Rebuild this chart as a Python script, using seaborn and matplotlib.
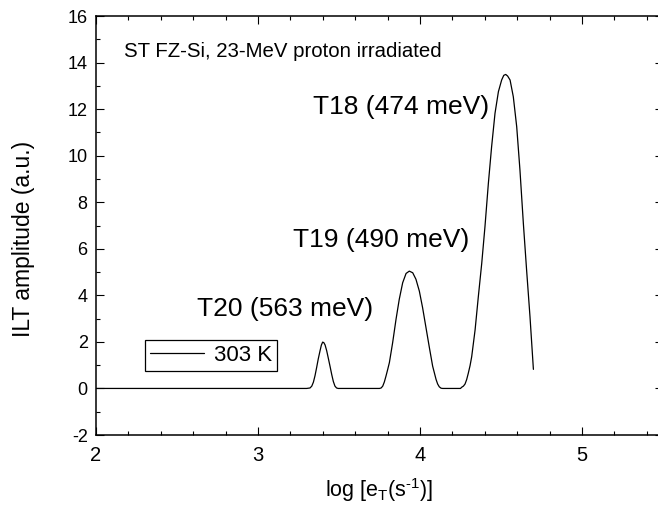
import matplotlib
matplotlib.use("Agg")
import matplotlib.pyplot as plt
import seaborn as sns
import pandas as pd

# ---- data ----
log_eT = [2.0, 3.300, 3.321, 3.332, 3.342, 3.352, 3.362, 3.372, 3.383, 3.391, 3.399,
          3.406, 3.414, 3.424, 3.434, 3.445, 3.455, 3.465, 3.475, 3.485, 3.495,
          3.750, 3.760, 3.770, 3.780, 3.790, 3.800, 3.811, 3.831, 3.852, 3.872,
          3.893, 3.914, 3.934, 3.955, 3.975, 3.996, 4.016, 4.037, 4.058, 4.078,
          4.099, 4.109, 4.119, 4.130, 4.140,
          4.250, 4.257, 4.268, 4.278, 4.288, 4.298, 4.309, 4.319, 4.340, 4.360,
          4.381, 4.401, 4.422, 4.442, 4.463, 4.484, 4.504, 4.517, 4.529, 4.541,
          4.556, 4.576, 4.597, 4.617, 4.638, 4.658, 4.679, 4.700]
ilt_amp = [0.0, 0.0, 0.02, 0.10, 0.27, 0.55, 0.90, 1.27, 1.62, 1.86, 1.99,
           1.97, 1.87, 1.62, 1.30, 0.94, 0.60, 0.30, 0.10, 0.02, 0.0,
           0.0, 0.02, 0.10, 0.28, 0.53, 0.80, 1.11, 1.96, 2.97, 3.83,
           4.54, 4.94, 5.04, 4.97, 4.69, 4.18, 3.47, 2.61, 1.75, 0.96,
           0.39, 0.19, 0.07, 0.01, 0.0,
           0.0, 0.05, 0.10, 0.19, 0.38, 0.65, 0.98, 1.36, 2.51, 3.94,
           5.37, 6.95, 8.81, 10.38, 11.82, 12.75, 13.25, 13.45, 13.49, 13.42,
           13.25, 12.53, 11.24, 9.38, 7.09, 5.09, 3.08, 0.82]
series_label = "303 K"
peak_labels = ["T18 (474 meV)", "T19 (490 meV)", "T20 (563 meV)"]
peak_label_pos = [(3.34, 11.8), (3.216, 6.07), (2.625, 3.12)]
sample_note = "ST FZ-Si, 23-MeV proton irradiated"
x_ticks = [2, 3, 4, 5]
y_ticks = [-2, 0, 2, 4, 6, 8, 10, 12, 14, 16]

sns.set_theme(style="white")
plt.rcParams['font.family'] = ['Liberation Sans', 'DejaVu Sans']
plt.rcParams['mathtext.fontset'] = 'custom'
plt.rcParams['mathtext.rm'] = 'Liberation Sans'
plt.rcParams['mathtext.it'] = 'Liberation Sans'
plt.rcParams['axes.unicode_minus'] = False
for key in ['text.color', 'axes.labelcolor', 'xtick.color', 'ytick.color', 'axes.edgecolor']:
    plt.rcParams[key] = 'black'

fig = plt.figure(figsize=(6.58, 5.12), dpi=100)
ax = fig.add_axes([96/658, 77/512, 567/658, 419/512])

df = pd.DataFrame({"x": log_eT, "y": ilt_amp})
sns.lineplot(data=df, x="x", y="y", ax=ax, color="black", linewidth=0.9,
             label=series_label, sort=False, estimator=None)

ax.set_xlim(2, 5.5)
ax.set_ylim(-2, 16)
ax.set_xticks(x_ticks)
ax.set_yticks(y_ticks)
ax.set_xticks([v / 10 for v in range(20, 56, 2)], minor=True)
ax.set_yticks(list(range(-2, 17)), minor=True)
ax.set_xticklabels([str(v) for v in x_ticks], fontsize=14.5)
ax.set_yticklabels([str(v) for v in y_ticks], fontsize=13)

ax.tick_params(which='both', direction='in', top=True, right=True,
               bottom=True, left=True, color='black', width=0.8)
ax.tick_params(which='major', length=5.5)
ax.tick_params(which='minor', length=3)
ax.tick_params(axis='x', which='major', pad=8)
ax.tick_params(axis='y', which='major', pad=6)
for s in ax.spines.values():
    s.set_color('black')
    s.set_linewidth(1.1)

ax.set_xlabel(r"log [e$_\mathregular{T}$(s$^\text{-1}$)]", fontsize=15.5)
ax.set_ylabel("ILT amplitude (a.u.)", fontsize=16.5)
ax.xaxis.set_label_coords(0.5, -0.097)
ax.yaxis.set_label_coords(-0.108, 0.468)

ax.text(2.17, 14.22, sample_note, fontsize=14.7, ha='left', va='baseline')
for lab, (px, py) in zip(peak_labels, peak_label_pos):
    ax.text(px, py, lab, fontsize=19, ha='left', va='baseline')

leg = ax.legend(loc='upper left', bbox_to_anchor=(0.0864, 0.2267),
                borderaxespad=0, fontsize=16, frameon=True, fancybox=False,
                framealpha=1, edgecolor='black', handlelength=2.45,
                handletextpad=0.45, borderpad=0.22)
leg.get_frame().set_linewidth(0.9)

fig.savefig("out.png", dpi=100)
